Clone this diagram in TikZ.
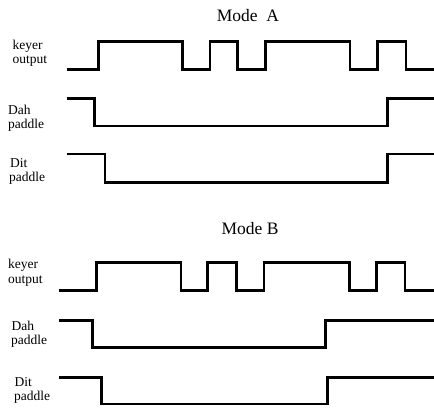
\documentclass[tikz,border=0pt]{standalone}
\usepackage{fontspec}
\setmainfont{Liberation Serif}
\begin{document}
\begin{tikzpicture}[x=1pt,y=-1pt,
  wave/.style={line width=2.6pt, line join=miter},
  lbl/.style={anchor=base west, inner sep=0pt, font=\fontsize{13.5}{15}\selectfont},
  ttl/.style={anchor=base, inner sep=0pt, font=\fontsize{17.5}{20}\selectfont}]
\useasboundingbox (0,0) rectangle (434,408);
% ---------- Mode A ----------
\node[ttl] (tA) at (248,21.7) {Mode\ \ A};
\node[lbl] (kA1) at (12.5,49.5) {keyer};
\node[lbl] (kA2) at (12.5,63.5) {output};
\node[lbl] (dA1) at (8,114.5) {Dah};
\node[lbl] (dA2) at (8,128.5) {paddle};
\node[lbl] (iA1) at (10,167) {Dit};
\node[lbl] (iA2) at (9,181) {paddle};
\draw[wave] (66.7,69.5) -| (98.5,41.7) -| (182.7,69.5) -| (210,41.7) -| (237.7,69.5)
  -| (265.7,41.7) -| (350,69.5) -| (377.3,41.7) -| (406,69.5) -- (434,69.5);
\draw[wave] (66.7,98.3) -| (94.3,126) -| (387.3,98.3) -- (434,98.3);
\draw[wave] (66.7,154) -| (105,182.3) -| (387.3,154) -- (434,154);
% ---------- Mode B ----------
\node[ttl] (tB) at (250,234) {Mode B};
\node[lbl] (kB1) at (8,268) {keyer};
\node[lbl] (kB2) at (8,283) {output};
\node[lbl] (dB1) at (11.5,330.5) {Dah};
\node[lbl] (dB2) at (11,344.5) {paddle};
\node[lbl] (iB1) at (14.5,386) {Dit};
\node[lbl] (iB2) at (14,400) {paddle};
\draw[wave] (59.3,290.7) -| (96.7,262.3) -| (181,290.7) -| (207.7,262.3) -| (236.7,290.7)
  -| (264,262.3) -| (349.3,290.7) -| (376.7,262.3) -| (405,290.7) -- (434,290.7);
\draw[wave] (59.3,320.7) -| (92.7,347.3) -| (325.7,320.7) -- (434,320.7);
\draw[wave] (59.3,377.3) -| (101.7,404) -| (327.3,377.3) -- (434,377.3);
\end{tikzpicture}
\end{document}
